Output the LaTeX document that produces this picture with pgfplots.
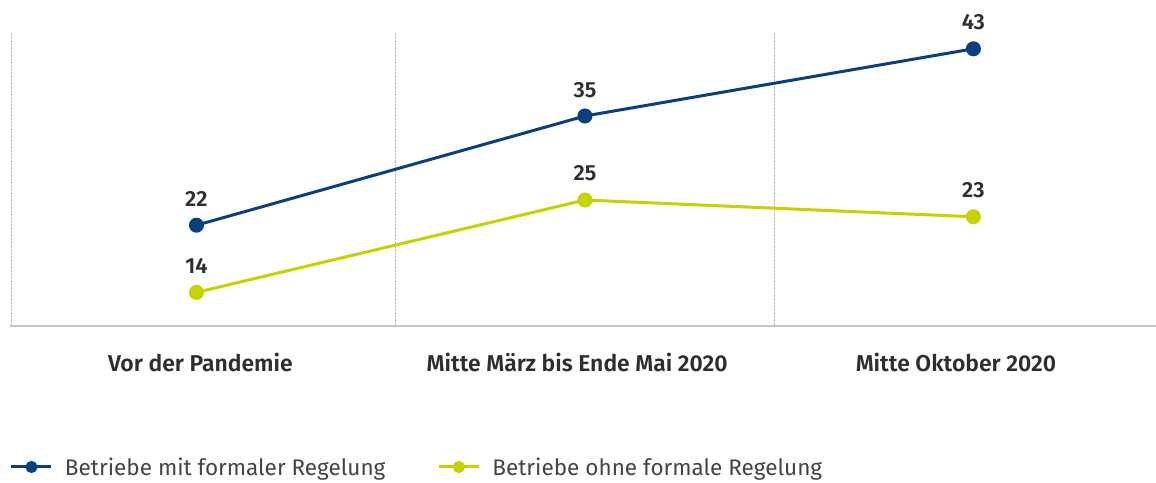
\documentclass[border=0pt]{standalone}
\usepackage{pgfplots}
\pgfplotsset{compat=1.18}
\usepackage{fontspec}
\setmainfont{Fira Sans}[BoldFont={Fira Sans SemiBold}]
\definecolor{cblue}{HTML}{0B3F80}
\definecolor{cyel}{HTML}{C5D300}
\definecolor{ctxt}{HTML}{2E2E2E}
\definecolor{cleg}{HTML}{444444}
\begin{document}
\begin{tikzpicture}
\begin{axis}[
  width=1146bp, height=294bp, scale only axis,
  xmin=-0.48, xmax=2.47, ymin=10, ymax=45,
  axis x line=bottom, axis y line=none,
  x axis line style={draw=gray!45, line width=2.5bp, -},
  xtick={0.01,0.98,1.955},
  xticklabels={Vor der Pandemie, Mitte März bis Ende Mai 2020, Mitte Oktober 2020},
  major tick length=0pt,
  xticklabel style={font=\bfseries\fontsize{23}{26}\selectfont, text=ctxt, anchor=base, yshift=-46bp},
  extra x ticks={-0.477,0.513,1.487},
  extra x tick labels={},
  extra x tick style={grid=major, major grid style={gray!55, densely dotted, line width=0.8bp}},
  ytick=\empty,
  clip=false,
  /pgf/number format/assume math mode=true,
  nodes near coords,
  nodes near coords align={anchor=base},
  every node near coord/.append style={font=\bfseries\fontsize{22}{26}\selectfont, text=ctxt, yshift=19bp, inner sep=0pt},
  legend columns=2,
  legend cell align=left,
  legend style={at={(axis description cs:0,0)}, anchor=west, yshift=-141bp, draw=none, fill=none,
    inner sep=0pt, outer sep=0pt, font=\fontsize{22.6}{26}\selectfont, text=cleg,
    nodes={inner sep=0pt},
    /tikz/every even column/.append style={column sep=52bp},
    /tikz/every odd column/.append style={column sep=12bp}},
  legend image code/.code={\draw[#1, mark repeat=2, mark phase=2, mark size=4.5bp] plot coordinates {(0bp,0bp) (20bp,0bp) (40bp,0bp)};},
]
\addplot[cblue, line width=3bp, mark=*, mark size=6bp, mark options={solid}] coordinates {(0,22) (1,35) (2,43)};
\addlegendentry{Betriebe mit formaler Regelung}
\addplot[cyel, line width=3bp, mark=*, mark size=6bp, mark options={solid}] coordinates {(0,14) (1,25) (2,23)};
\addlegendentry{Betriebe ohne formale Regelung}
\end{axis}
\path (current axis.south west) ++(-10bp,-157bp) coordinate (bl);
\path (current axis.north east) ++(0bp,32bp) coordinate (tr);
\pgfresetboundingbox
\path[use as bounding box] (bl) rectangle (tr);
\end{tikzpicture}
\end{document}
